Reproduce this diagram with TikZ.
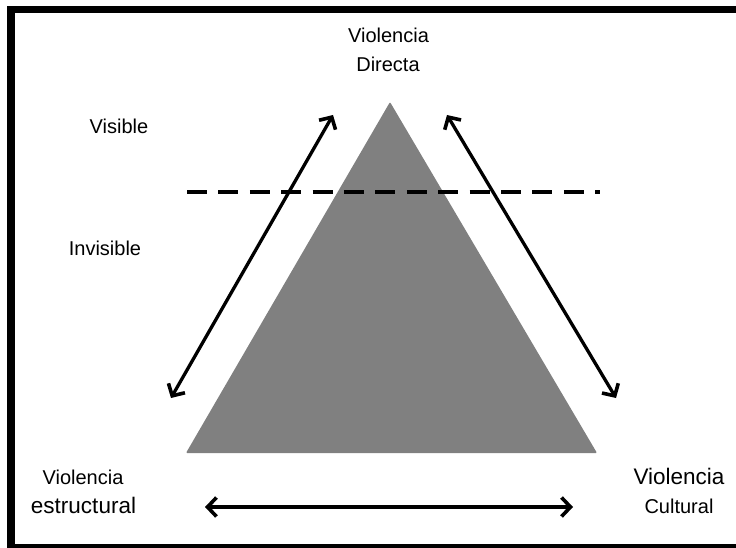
\documentclass[tikz,border=0pt]{standalone}
\usepackage{fontspec}
\setmainfont{Liberation Sans}
\usetikzlibrary{arrows.meta}
\begin{document}
\begin{tikzpicture}[x=1pt,y=-1pt,
	lbl/.style={inner sep=0pt,font=\fontsize{20}{24}\selectfont},
	lblbig/.style={inner sep=0pt,font=\fontsize{22.5}{27}\selectfont},
	barb/.style={line width=3.3pt,{Straight Barb[length=9pt,width=19pt,line width=3.6pt]}-{Straight Barb[length=9pt,width=19pt,line width=3.6pt]}}]
	\useasboundingbox (0,0) rectangle (736,548);
	\clip (0,0) rectangle (736,548);
	\draw [black,line width=7.5pt] (745,9.5) -- (11,9.5) -- (11,547.5) -- (745,547.5);
	\fill [gray,rounded corners=1pt] (390,102) -- (597,453) -- (186,453) -- cycle;
	\draw [black,line width=3.5pt,dash pattern=on 20pt off 11.4pt] (187,192) -- (600,192);
	\coordinate (lb) at (171,398);
	\coordinate (lt) at (333,115);
	\coordinate (rt) at (447,115);
	\coordinate (rb) at (616,398);
	\coordinate (bl) at (205,507);
	\coordinate (br) at (573,507);
	\draw [barb] (lb) -- (lt);
	\draw [barb] (rt) -- (rb);
	\draw [barb] (bl) -- (br);
	\node [lbl] (dir1) at (388.5,35) {Violencia};
	\node [lbl] (dir2) at (388,64.5) {Directa};
	\node [lbl] (vis) at (119,126.5) {Visible};
	\node [lbl] (invis) at (105,248) {Invisible};
	\node [lbl] (est1) at (83,477) {Violencia};
	\node [lblbig] (est2) at (83.5,505) {estructural};
	\node [lblbig] (cul1) at (679,476) {Violencia};
	\node [lbl] (cul2) at (679,506) {Cultural};
\end{tikzpicture}
\end{document}
